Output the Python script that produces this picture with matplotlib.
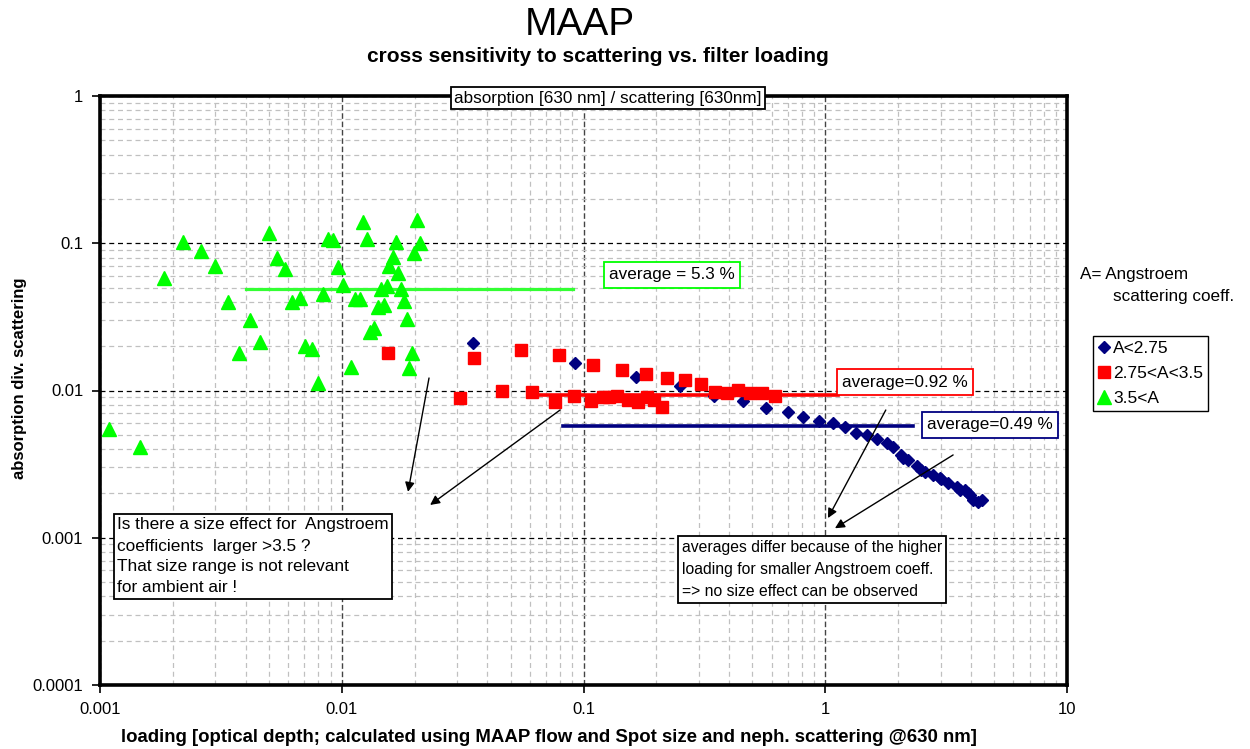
import matplotlib
matplotlib.use('Agg')
import matplotlib.pyplot as plt
from matplotlib.ticker import FixedLocator, FixedFormatter, LogLocator, NullFormatter

plt.rcParams['font.family'] = ['Liberation Sans', 'DejaVu Sans']

# ---------------- data ----------------
blue_x = [0.0349, 0.0923, 0.1648, 0.2506, 0.3467, 0.457, 0.569, 0.702, 0.809, 0.942,
          1.077, 1.207, 1.341, 1.489, 1.637, 1.80, 1.906, 2.057, 2.10, 2.20, 2.40, 2.50,
          2.59, 2.79, 2.98, 3.00, 3.22, 3.51, 3.60, 3.78, 3.90, 3.97, 4.08, 4.28, 4.45]
blue_y = [0.0210, 0.01538, 0.01235, 0.01073, 0.00918, 0.00849, 0.0076, 0.00714, 0.0066, 0.00621,
          0.00601, 0.00565, 0.00514, 0.00499, 0.00469, 0.0044, 0.00413, 0.00365, 0.0035, 0.00337,
          0.00307, 0.0029, 0.0028, 0.00267, 0.00255, 0.0025, 0.00236, 0.00221, 0.0021, 0.00211,
          0.0020, 0.00195, 0.0018, 0.00175, 0.0018]

red_x = [0.01552, 0.0308, 0.0352, 0.0460, 0.0551, 0.0612, 0.0762, 0.0793, 0.0914, 0.1094,
         0.1074, 0.1205, 0.128, 0.1377, 0.1442, 0.1528, 0.168, 0.1814, 0.1834, 0.1958,
         0.2113, 0.2213, 0.263, 0.306, 0.350, 0.393, 0.436, 0.489, 0.547, 0.619]
red_y = [0.0180, 0.00889, 0.01663, 0.00993, 0.01884, 0.00977, 0.00836, 0.01742, 0.00918, 0.0149,
         0.00849, 0.00904, 0.0090, 0.00918, 0.01377, 0.00862, 0.00836, 0.01294, 0.00904, 0.00862,
         0.00773, 0.01216, 0.01178, 0.01107, 0.00977, 0.00962, 0.01008, 0.00962, 0.00962, 0.00918]

green_x = [0.01225, 0.0205, 0.0050, 0.0022, 0.00877, 0.0092, 0.0127, 0.01675, 0.0211, 0.00262,
           0.0054, 0.0163, 0.0199, 0.00299, 0.00582, 0.00965, 0.01567, 0.0171, 0.00184, 0.0101,
           0.01452, 0.01538, 0.0176, 0.0067, 0.00622, 0.00835, 0.01135, 0.0119, 0.0181, 0.00338,
           0.0141, 0.01497, 0.00417, 0.0186, 0.0136, 0.0131, 0.00459, 0.00705, 0.00754, 0.00376,
           0.0195, 0.0109, 0.0190, 0.00798, 0.00109, 0.00146]
green_y = [0.139, 0.144, 0.117, 0.102, 0.107, 0.105, 0.107, 0.102, 0.1005, 0.0886,
           0.0794, 0.0807, 0.0859, 0.070, 0.0669, 0.069, 0.070, 0.0628, 0.058, 0.052,
           0.0489, 0.0513, 0.0489, 0.0425, 0.0399, 0.0452, 0.0418, 0.0418, 0.0405, 0.0399,
           0.0369, 0.0381, 0.0301, 0.0306, 0.0266, 0.0250, 0.0213, 0.0201, 0.0191, 0.0180,
           0.0180, 0.01444, 0.0142, 0.01125, 0.00548, 0.00413]

# average lines: [x_start, x_end], level
green_avg_x = [0.0040, 0.0906]
green_avg = 0.049
red_avg_x = [0.064, 1.13]
red_avg = 0.0093
blue_avg_x = [0.082, 2.31]
blue_avg = 0.0057

x_ticks = [0.001, 0.01, 0.1, 1, 10]
x_labels = ['0.001', '0.01', '0.1', '1', '10']
y_ticks = [0.0001, 0.001, 0.01, 0.1, 1]
y_labels = ['0.0001', '0.001', '0.01', '0.1', '1']

# ---------------- figure ----------------
W, H = 1250, 749
fig = plt.figure(figsize=(W / 100, H / 100), dpi=100)
ax = fig.add_axes([100 / W, 1 - 685 / H, 967 / W, 589 / H])
ax.set_xscale('log')
ax.set_yscale('log')
ax.set_xlim(0.001, 10)
ax.set_ylim(0.0001, 1)

# grid
ax.xaxis.set_major_locator(FixedLocator(x_ticks))
ax.xaxis.set_major_formatter(FixedFormatter(x_labels))
ax.yaxis.set_major_locator(FixedLocator(y_ticks))
ax.yaxis.set_major_formatter(FixedFormatter(y_labels))
ax.xaxis.set_minor_locator(LogLocator(base=10, subs=range(2, 10)))
ax.yaxis.set_minor_locator(LogLocator(base=10, subs=range(2, 10)))
ax.xaxis.set_minor_formatter(NullFormatter())
ax.yaxis.set_minor_formatter(NullFormatter())
ax.grid(which='minor', color='#c0c0c0', linestyle=(0, (4, 3)), linewidth=0.9)
ax.grid(which='major', axis='y', color='black', linestyle=(0, (4, 3)), linewidth=0.9)
ax.grid(which='major', axis='x', color='#444444', linestyle=(0, (4, 2)), linewidth=1.0)
ax.tick_params(which='minor', length=0)
ax.tick_params(which='major', direction='out', length=6, width=1.2, labelsize=12, pad=6)
for s in ax.spines.values():
    s.set_linewidth(2.6)
    s.set_color('black')

# markers
ax.plot(blue_x, blue_y, linestyle='none', marker='D', markersize=6.5, color='#000080',
        markeredgecolor='#000080', label='A<2.75', zorder=3)
ax.plot(red_x, red_y, linestyle='none', marker='s', markersize=9, color='#ff0000',
        markeredgecolor='#ff0000', label='2.75<A<3.5', zorder=3)
ax.plot(green_x, green_y, linestyle='none', marker='^', markersize=10.5, color='#00ff00',
        markeredgecolor='#00ff00', label='3.5<A', zorder=3)

# averages
ax.plot(green_avg_x, [green_avg, green_avg], color='#33ff33', linewidth=2.3, zorder=2)
ax.plot(red_avg_x, [red_avg, red_avg], color='#ff0000', linewidth=2.6, zorder=2)
ax.plot(blue_avg_x, [blue_avg, blue_avg], color='#000080', linewidth=2.6, zorder=2)

# arrows (tail -> head, data coords)
arrows = [((0.02296, 0.01216), (0.0188, 0.00205)),
          ((0.080, 0.00737), (0.0232, 0.00167)),
          ((1.78, 0.00737), (1.026, 0.00136)),
          ((3.38, 0.00365), (1.097, 0.00116))]
for tail, head in arrows:
    ax.annotate('', xy=head, xytext=tail,
                arrowprops=dict(arrowstyle='-|>', color='black', lw=1.0,
                                mutation_scale=14, shrinkA=0, shrinkB=0), zorder=4)

# titles / labels
fig.text(580 / W, 1 - 25 / H, 'MAAP', ha='center', va='center', fontsize=28)
fig.text(598 / W, 1 - 57 / H, 'cross sensitivity to scattering vs. filter loading',
         ha='center', va='center', fontsize=15, fontweight='bold')
fig.text(549 / W, 1 - 737 / H,
         'loading [optical depth; calculated using MAAP flow and Spot size and neph. scattering @630 nm]',
         ha='center', va='center', fontsize=13.4, fontweight='bold')
fig.text(20 / W, 1 - 378 / H, 'absorption div. scattering', rotation=90,
         ha='center', va='center', fontsize=12, fontweight='bold')

def box(x, y, s, ec, ha='center', va='center', pad=0.3, fs=12.3, ls=1.2):
    fig.text(x / W, 1 - y / H, s, ha=ha, va=va, fontsize=fs, linespacing=ls, zorder=10,
             bbox=dict(boxstyle='square,pad=%g' % pad, fc='white', ec=ec, lw=1.3))

box(608, 98, 'absorption [630 nm] / scattering [630nm]', 'black', pad=0.2)
box(672, 275, 'average = 5.3 %', '#00ff00', pad=0.3)
box(905, 382, 'average=0.92 %', '#ff0000', pad=0.3)
box(990, 425, 'average=0.49 %', '#000080', pad=0.3)
box(117, 556.5, 'Is there a size effect for  Angstroem\ncoefficients  larger >3.5 ?\n'
                'That size range is not relevant\nfor ambient air !', 'black',
    ha='left', pad=0.2, fs=12.4, ls=1.5)
box(682, 569.5, 'averages differ because of the higher\nloading for smaller Angstroem coeff.\n'
                '=> no size effect can be observed', 'black',
    ha='left', pad=0.25, fs=11.3, ls=1.55)

fig.text(1080 / W, 1 - 275 / H, 'A= Angstroem', ha='left', va='center', fontsize=12.3)
fig.text(1113 / W, 1 - 296 / H, 'scattering coeff.', ha='left', va='center', fontsize=12.3)

leg = fig.legend(loc='upper left', bbox_to_anchor=(1093 / W, 1 - 336 / H), fontsize=12.5,
                 frameon=True, fancybox=False, edgecolor='black', framealpha=1,
                 handlelength=0.7, handletextpad=0.15, borderpad=0.3, labelspacing=0.55,
                 borderaxespad=0, markerscale=0.9)
leg.get_frame().set_linewidth(1.0)

fig.savefig('out.png', dpi=100)
